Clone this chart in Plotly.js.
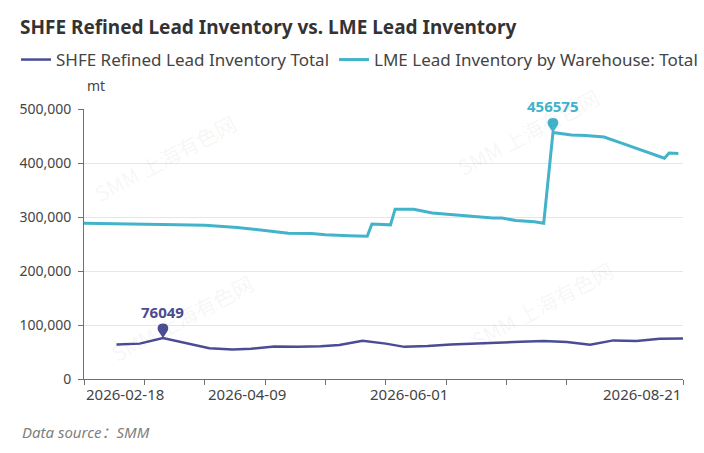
<!DOCTYPE html>
<html>
<head>
<meta charset="utf-8">
<script src="https://cdn.plot.ly/plotly-3.0.1.min.js"></script>
<style>
  html, body { margin: 0; padding: 0; background: #fff; }
  #chart { width: 704px; height: 453px; }
</style>
</head>
<body>
<div id="chart"></div>
<script>
// SHFE weekly totals (mt)
const shfeDates = [
  '2026-02-27', '2026-03-06', '2026-03-13', '2026-03-20', '2026-03-27', '2026-04-03',
  '2026-04-10', '2026-04-17', '2026-04-24', '2026-05-01', '2026-05-08', '2026-05-15',
  '2026-05-22', '2026-05-29', '2026-06-05', '2026-06-12', '2026-06-19', '2026-06-26',
  '2026-07-03', '2026-07-10', '2026-07-17', '2026-07-24', '2026-07-31', '2026-08-07',
  '2026-08-14', '2026-08-21'
];
const shfeValues = [
  64000, 65500, 76049, 66000, 57000, 54500,
  56000, 60000, 59500, 60500, 63000, 71000,
  65500, 59500, 61000, 64000, 66000, 68000,
  69000, 70500, 68500, 63500, 71500, 70500,
  74500, 75000
];

// LME warehouse total (mt), days where the line changes
const lmeDates = [
  '2026-02-18', '2026-03-04', '2026-03-06', '2026-03-18', '2026-03-26', '2026-04-02',
  '2026-04-07', '2026-04-14', '2026-04-17', '2026-04-22', '2026-04-29', '2026-05-05',
  '2026-05-12', '2026-05-18', '2026-05-19', '2026-05-26', '2026-05-27', '2026-06-02',
  '2026-06-08', '2026-06-15', '2026-06-19', '2026-06-25', '2026-06-29', '2026-07-02',
  '2026-07-08', '2026-07-10', '2026-07-14', '2026-07-20', '2026-07-23', '2026-07-28',
  '2026-07-29', '2026-08-03', '2026-08-07', '2026-08-12', '2026-08-17', '2026-08-18',
  '2026-08-20'
];
const lmeValues = [
  288500, 287500, 286000, 285500, 284500, 282500,
  280500, 276000, 273000, 270000, 269500, 267000,
  265500, 264500, 287000, 285500, 314500, 314500,
  307500, 304000, 301000, 298000, 298000, 293500,
  291000, 288500, 456575, 452000, 451000, 449000,
  448000, 439000, 426500, 418500, 409000, 418500,
  417500
];

const tickDates = [
  '2026-02-18', '2026-03-09', '2026-03-26', '2026-04-15', '2026-05-05',
  '2026-05-22', '2026-06-11', '2026-06-30', '2026-07-17', '2026-08-21'
];
const labelDates = ['2026-02-18', '2026-04-09', '2026-06-01', '2026-08-21'];
const ukHolidays = ['2026-04-06', '2026-05-04', '2026-05-25'];
const yTicks = [0, 100000, 200000, 300000, 400000, 500000];

const fontFamily = '"Noto Sans", "Noto Sans CJK SC", sans-serif';
const shfeColor = '#4A4C94';
const lmeColor = '#42B3CA';
const axisColor = '#6E7079';
const textColor = '#444';

function maxPoint(dates, values) {
  let k = 0;
  for (let i = 1; i < values.length; i++) {
    if (values[i] > values[k]) k = i;
  }
  return { x: dates[k], y: values[k] };
}

// teardrop marker, tip sits on the point (pixels, y up)
const pinPath = 'M0,0 L-4,6 C-6.5,9.5 -5.5,14.5 0,14.5 C5.5,14.5 6.5,9.5 4,6 Z';

const traces = [
  {
    name: 'SHFE Refined Lead Inventory Total',
    x: shfeDates, y: shfeValues,
    type: 'scatter', mode: 'lines',
    line: { color: shfeColor, width: 2.5 }
  },
  {
    name: 'LME Lead Inventory by Warehouse: Total',
    x: lmeDates, y: lmeValues,
    type: 'scatter', mode: 'lines',
    line: { color: lmeColor, width: 3 }
  }
];

const shapes = [];
const annotations = [];

[[shfeDates, shfeValues, shfeColor], [lmeDates, lmeValues, lmeColor]].forEach(([d, v, c]) => {
  const p = maxPoint(d, v);
  shapes.push({
    type: 'path', xref: 'x', yref: 'y',
    xsizemode: 'pixel', ysizemode: 'pixel',
    xanchor: p.x, yanchor: p.y,
    path: pinPath, fillcolor: c, line: { width: 0 }
  });
  annotations.push({
    x: p.x, y: p.y, xref: 'x', yref: 'y',
    text: `<b>${p.y}</b>`, showarrow: false,
    yshift: 26, yanchor: 'middle',
    font: { family: fontFamily, size: 15, color: c }
  });
});

// date labels under the axis, first one pushed right and last one left
labelDates.forEach((d, i) => {
  let anchor = 'center';
  if (i === 0) anchor = 'left';
  if (i === labelDates.length - 1) anchor = 'right';
  annotations.push({
    x: d, y: 0, xref: 'x', yref: 'paper',
    text: d, showarrow: false,
    xanchor: anchor, yanchor: 'top', yshift: -3,
    font: { family: fontFamily, size: 15, color: textColor }
  });
});

// page-pixel positions, turned into paper units
const plotL = 84, plotR = 683, plotT = 109, plotB = 379;
const px = x => (x - plotL) / (plotR - plotL);
const py = y => (plotB - y) / (plotB - plotT);

annotations.push({
  x: px(85), y: py(85), xref: 'paper', yref: 'paper',
  text: 'mt', showarrow: false, xanchor: 'left', yanchor: 'middle',
  font: { family: fontFamily, size: 14, color: textColor }
});

// watermark
[[165, 158], [528, 132], [182, 318], [542, 305]].forEach(([wx, wy]) => {
  annotations.push({
    x: px(wx), y: py(wy), xref: 'paper', yref: 'paper',
    xanchor: 'center', yanchor: 'middle',
    text: 'SMM 上海有色网', showarrow: false, textangle: -28,
    font: { family: '"Noto Sans CJK SC", "Noto Sans", sans-serif', size: 21, color: 'rgba(0,0,0,0.055)' }
  });
});

annotations.push({
  x: px(20), y: py(432), xref: 'paper', yref: 'paper',
  text: '<i>Data source：SMM</i>', showarrow: false, xanchor: 'left', yanchor: 'middle',
  font: { family: fontFamily, size: 15, color: '#808080' }
});

const layout = {
  width: 704, height: 453,
  margin: { l: plotL, r: 704 - plotR, t: plotT, b: 453 - plotB, pad: 0 },
  paper_bgcolor: '#fff', plot_bgcolor: '#fff',
  font: { family: fontFamily, color: textColor },
  title: {
    text: '<b>SHFE Refined Lead Inventory vs. LME Lead Inventory</b>',
    x: 20 / 704, xref: 'container', xanchor: 'left',
    y: 1 - 27 / 453, yref: 'container', yanchor: 'middle',
    font: { family: fontFamily, size: 19, color: '#333' }
  },
  showlegend: true,
  legend: {
    orientation: 'h',
    x: px(16), xref: 'paper', xanchor: 'left',
    y: py(60), yref: 'paper', yanchor: 'middle',
    font: { family: fontFamily, size: 17, color: textColor },
    itemwidth: 30
  },
  xaxis: {
    type: 'date',
    range: [labelDates[0], labelDates[labelDates.length - 1]],
    rangebreaks: [
      { bounds: ['sat', 'mon'] },
      { values: ukHolidays }
    ],
    tickmode: 'array', tickvals: tickDates,
    showticklabels: false,
    ticks: 'outside', ticklen: 5, tickcolor: axisColor,
    showline: true, linecolor: axisColor, linewidth: 1,
    showgrid: false, zeroline: false
  },
  yaxis: {
    range: [0, 500000],
    tickmode: 'array', tickvals: yTicks, tickformat: ',d',
    ticks: 'outside', ticklen: 5, tickcolor: axisColor,
    ticklabelstandoff: 4,
    tickfont: { family: fontFamily, size: 14, color: textColor },
    showline: true, linecolor: axisColor, linewidth: 1,
    showgrid: true, gridcolor: '#E6E6E6', gridwidth: 1,
    zeroline: false
  },
  shapes: shapes,
  annotations: annotations
};

Plotly.newPlot('chart', traces, layout, { displayModeBar: false, staticPlot: true });
</script>
</body>
</html>
